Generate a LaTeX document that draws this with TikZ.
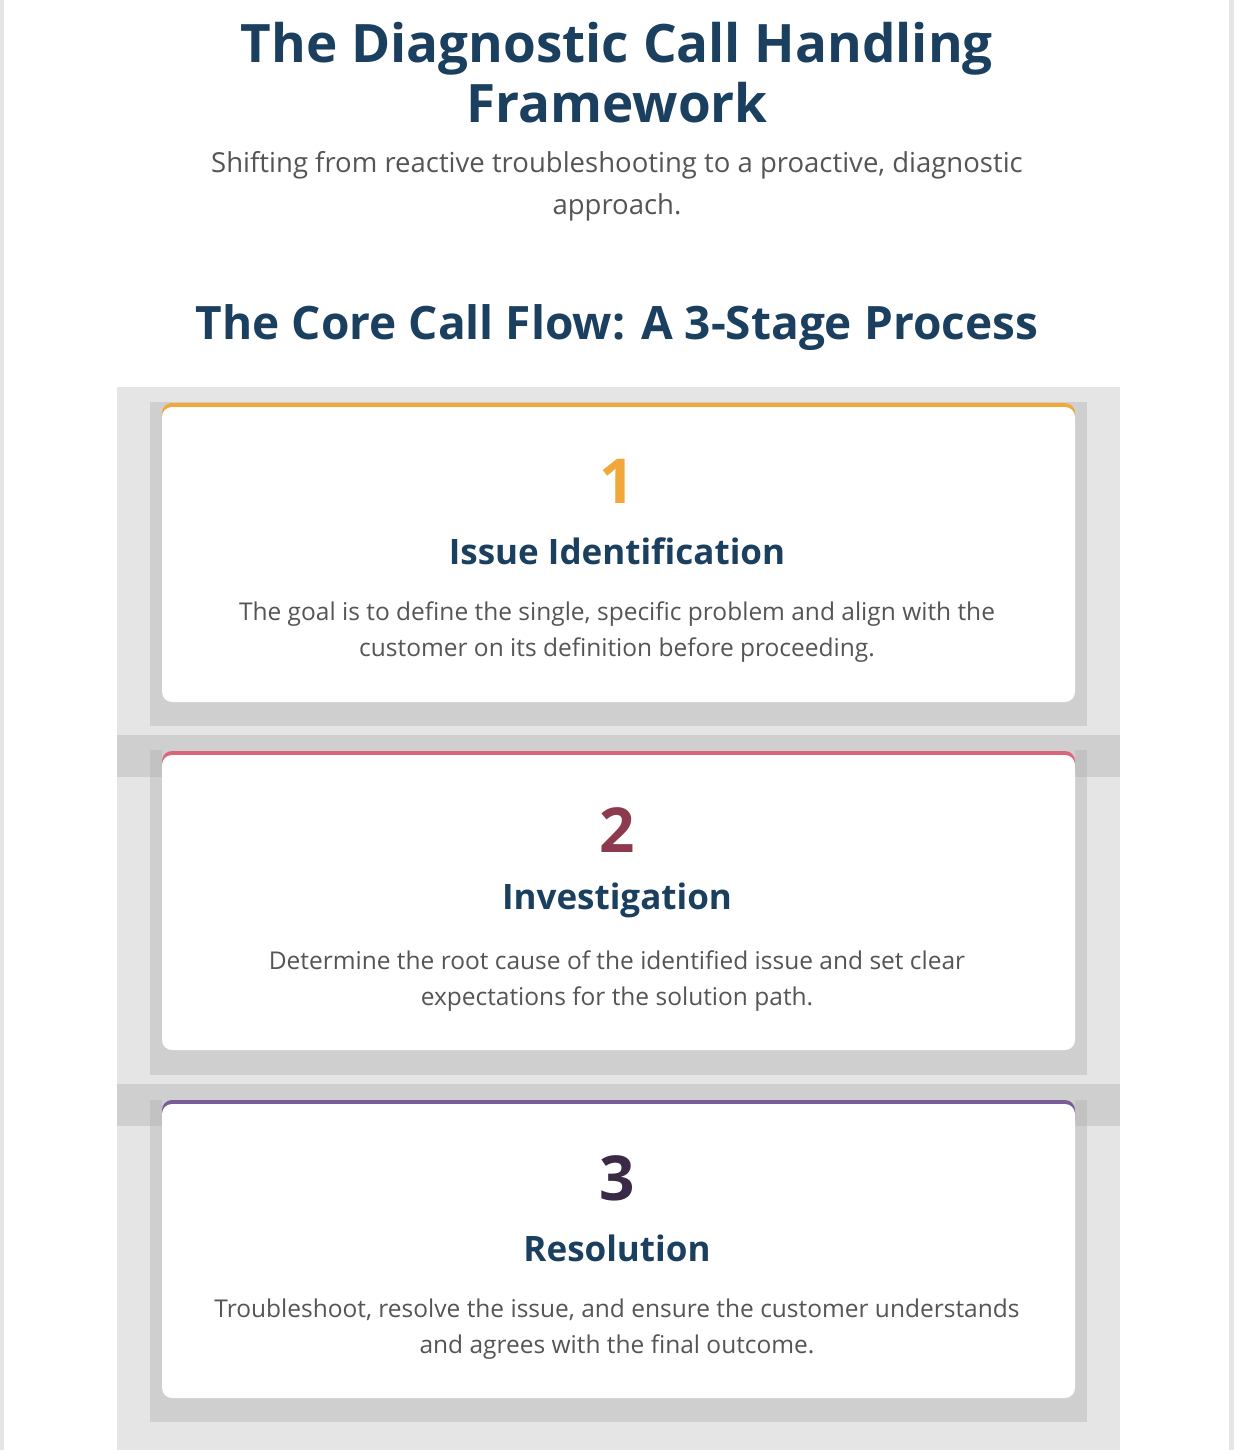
\documentclass[tikz,border=0pt]{standalone}
\usepackage{fontspec}
\setmainfont{Open Sans}
\begin{document}
\begin{tikzpicture}[x=1pt,y=-1pt,
 card/.style={fill=white,rounded corners=10pt,draw=none},
 num/.style={font=\fontsize{62}{62}\selectfont\bfseries},
 ctitle/.style={font=\fontsize{35}{40}\selectfont\bfseries,text=navy},
 body/.style={font=\fontsize{24.5}{36}\selectfont,text=bodyg,align=center}]
\definecolor{navy}{HTML}{1B3F5E}
\definecolor{bodyg}{HTML}{555555}
\definecolor{panelg}{HTML}{CFCFCF}
\definecolor{outerg}{HTML}{E5E5E5}
\definecolor{overg}{HTML}{C2C2C2}
\definecolor{c1}{HTML}{F0A83A}
\definecolor{c2}{HTML}{8E3A4E}
\definecolor{c3}{HTML}{3A2A45}
\definecolor{l2}{HTML}{D9667A}
\definecolor{l3}{HTML}{7A5C96}
\useasboundingbox (0,0) rectangle (1234,1450);
\fill[white] (0,0) rectangle (1234,1450);
\fill[outerg] (0,0) rectangle (4,1450);
\fill[outerg] (1229,0) rectangle (1234,1450);
\node[font=\fontsize{53}{60}\selectfont\bfseries,text=navy,align=center] (t) at (617,73) {The Diagnostic Call Handling\\Framework};
\node[font=\fontsize{27.5}{42}\selectfont,text=bodyg,align=center] (s) at (617,186) {Shifting from reactive troubleshooting to a proactive, diagnostic\\approach.};
\node[font=\fontsize{46}{50}\selectfont\bfseries,text=navy] (h) at (617,328) {The Core Call Flow: A 3-Stage Process};
\fill[outerg] (117,387) rectangle (1120,1450);
\fill[panelg] (117,735) rectangle (1120,777);
\fill[panelg] (117,1084) rectangle (1120,1126);
\foreach \t/\b in {402/726,750/1075,1100/1422}{\fill[panelg] (150,\t) rectangle (1087,\b);}
\fill[overg] (150,750) rectangle (162,777);\fill[overg] (1075,750) rectangle (1087,777);
\fill[overg] (150,1100) rectangle (162,1126);\fill[overg] (1075,1100) rectangle (1087,1126);
\foreach \t/\b/\c in {403/702/c1,751/1050/l2,1100/1398/l3}{
 \fill[\c,rounded corners=10pt] (162,\t) rectangle (1075,\t+30);
 \fill[card] (162,\t+4) rectangle (1075,\b);}
\node[num,text=c1] (n1) at (617,481) {1};
\node[ctitle] (k1) at (617,551) {Issue Identification};
\node[body] (b1) at (617,632) {The goal is to define the single, specific problem and align with the\\customer on its definition before proceeding.};
\node[num,text=c2] (n2) at (617,830) {2};
\node[ctitle] (k2) at (617,900) {Investigation};
\node[body] (b2) at (617,981) {Determine the root cause of the identified issue and set clear\\expectations for the solution path.};
\node[num,text=c3] (n3) at (617,1178) {3};
\node[ctitle] (k3) at (617,1248) {Resolution};
\node[body] (b3) at (617,1329) {Troubleshoot, resolve the issue, and ensure the customer understands\\and agrees with the final outcome.};
\end{tikzpicture}
\end{document}
